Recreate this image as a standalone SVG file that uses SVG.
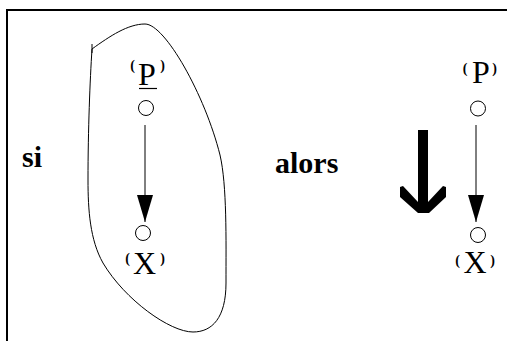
<svg xmlns="http://www.w3.org/2000/svg" width="507" height="341" viewBox="0 0 507 341">
<style>
.lbl{font-family:"Liberation Serif",serif;font-size:32px;fill:#000;text-anchor:middle}
.par{font-family:"Liberation Serif",serif;font-size:14px;font-weight:bold;fill:#000;text-anchor:middle}
.kw{font-family:"Liberation Serif",serif;font-weight:bold;font-size:30px;fill:#000}
.node{fill:#fff;stroke:#000;stroke-width:1}
.edge{stroke:#000;stroke-width:1;fill:none}
</style>
<defs>
<marker id="ah" markerWidth="27" markerHeight="16" refX="27" refY="8" orient="auto" markerUnits="userSpaceOnUse" viewBox="0 0 27 16">
<polygon points="0,0 27,8 0,16" fill="#000"/>
</marker>
</defs>
<rect x="7" y="10" width="600" height="400" fill="none" stroke="#000" stroke-width="2"/>
<g id="region">
<path d="M92,49 C110,36 128,24 145,24 C165,24 205,95 220,155 C227,185 226,240 226,283 C226,318 212,332 193,332 C170,332 125,300 103,263 C90,240 88,210 88,180 C88,130 90,80 92,49 Z" fill="none" stroke="#000" stroke-width="1"/>
<line x1="92" y1="44" x2="92" y2="53" stroke="#000" stroke-width="1"/>
</g>
<g id="text-si"><text class="kw" x="22" y="167">si</text></g>
<g id="text-alors"><text class="kw" x="275" y="173">alors</text></g>
<g id="P1">
<circle class="node" cx="146" cy="108" r="7.5"/>
<text class="lbl" x="147" y="85">P</text>
<line x1="139" y1="88.5" x2="157" y2="88.5" stroke="#000" stroke-width="1.2"/>
<text class="par" x="132.5" y="70">(</text>
<text class="par" x="162.5" y="70">)</text>
</g>
<g id="X1">
<circle class="node" cx="143" cy="233" r="7.5"/>
<text class="lbl" x="144.5" y="274">X</text>
<text class="par" x="127.5" y="263">(</text>
<text class="par" x="162.5" y="263">)</text>
</g>
<g id="P2">
<circle class="node" cx="478" cy="108.5" r="7.5"/>
<text class="lbl" x="481" y="83">P</text>
<text class="par" x="465" y="73">(</text>
<text class="par" x="494.5" y="73">)</text>
</g>
<g id="X2">
<circle class="node" cx="478" cy="235" r="7.5"/>
<text class="lbl" x="475" y="273">X</text>
<text class="par" x="457.5" y="265">(</text>
<text class="par" x="492.5" y="265">)</text>
</g>
<g id="bigarrow">
<polygon points="418,130 428,130 428,202 443,186 446,187 446,197 429,213 418,213 400,197 400,187 403,186 418,202" fill="#000"/>
</g>
<g id="connectors">
<line class="edge" x1="145" y1="125" x2="145" y2="222" marker-end="url(#ah)"/>
<line class="edge" x1="476" y1="125" x2="476" y2="222" marker-end="url(#ah)"/>
</g>
</svg>
